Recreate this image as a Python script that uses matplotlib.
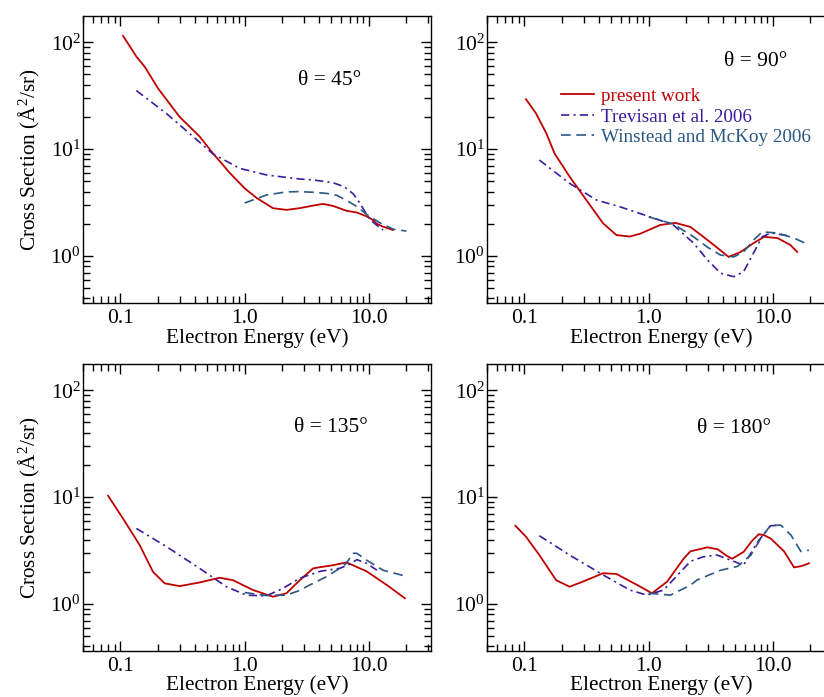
import matplotlib
matplotlib.use("Agg")
import matplotlib.pyplot as plt
from matplotlib.ticker import LogLocator, FixedLocator, FixedFormatter, NullFormatter

plt.rcParams['font.family'] = ['Liberation Serif', 'DejaVu Serif']
plt.rcParams['mathtext.fontset'] = 'custom'
plt.rcParams['mathtext.rm'] = 'Liberation Serif'
plt.rcParams['mathtext.it'] = 'Liberation Serif:italic'
plt.rcParams['lines.scale_dashes'] = False

# ---------------- data (energy in eV, cross section in A^2/sr) ----------------
# theta = 45
e45_red = [0.105, 0.1345, 0.157, 0.201, 0.30, 0.435, 0.557, 0.76, 1.0, 1.25, 1.69, 2.18, 2.77, 3.5, 4.27, 5.14, 6.59, 8.0, 9.6, 10.8, 11.6, 13.0, 15.6]
s45_red = [115, 73.5, 59, 37, 20, 13.1, 9.1, 5.98, 4.3, 3.49, 2.8, 2.7, 2.8, 2.95, 3.07, 2.94, 2.65, 2.55, 2.35, 2.17, 2.0, 1.88, 1.75]
e45_trev = [0.1345, 0.234, 0.385, 0.557, 0.914, 1.5, 2.77, 3.54, 5.14, 5.85, 6.59, 7.5, 8.5, 9.3, 10.2, 11.5, 13.0]
s45_trev = [35.3, 21.6, 13.1, 9.0, 6.6, 5.73, 5.25, 5.15, 4.85, 4.6, 4.3, 3.8, 3.1, 2.6, 2.2, 1.95, 1.75]
e45_win = [1.0, 1.5, 2.18, 2.77, 3.5, 4.58, 5.5, 6.65, 8.0, 9.6, 12.2, 15.7, 20.1]
s45_win = [3.13, 3.72, 3.98, 4.0, 3.95, 3.85, 3.7, 3.3, 2.9, 2.45, 2.05, 1.78, 1.71]

# theta = 90
e90_red = [0.103, 0.124, 0.15, 0.175, 0.231, 0.315, 0.43, 0.55, 0.706, 0.86, 1.24, 1.64, 2.17, 2.76, 3.58, 4.4, 5.5, 7.0, 8.5, 10.9, 13.8, 15.7]
s90_red = [29.3, 21.6, 14.1, 9.1, 5.53, 3.34, 2.02, 1.57, 1.52, 1.62, 1.95, 2.04, 1.87, 1.51, 1.19, 0.98, 1.09, 1.32, 1.51, 1.47, 1.27, 1.09]
e90_trev = [0.132, 0.231, 0.38, 0.59, 1.09, 1.58, 2.3, 2.97, 3.79, 4.84, 5.8, 7.0, 8.2, 9.6, 13.1]
s90_trev = [7.9, 4.78, 3.34, 2.88, 2.27, 1.95, 1.32, 0.92, 0.69, 0.64, 0.71, 1.07, 1.51, 1.64, 1.55]
e90_win = [1.0, 1.58, 2.3, 2.97, 3.79, 4.84, 5.8, 7.0, 8.2, 10.9, 14.8, 19.5]
s90_win = [2.32, 1.99, 1.51, 1.21, 1.02, 0.98, 1.09, 1.41, 1.68, 1.64, 1.47, 1.27]

# theta = 135
e135_red = [0.0796, 0.105, 0.143, 0.183, 0.227, 0.30, 0.435, 0.63, 0.805, 1.17, 1.69, 2.17, 2.78, 3.55, 4.04, 5.1, 6.6, 9.6, 14.0, 19.5]
s135_red = [10.3, 6.3, 3.56, 2.0, 1.56, 1.47, 1.59, 1.76, 1.67, 1.35, 1.17, 1.26, 1.67, 2.15, 2.21, 2.3, 2.45, 2.02, 1.5, 1.13]
e135_trev = [0.1345, 0.235, 0.435, 0.714, 1.03, 1.49, 2.04, 2.77, 4.04, 5.85, 7.0, 8.0, 9.6, 11.6]
s135_trev = [5.09, 3.44, 2.15, 1.45, 1.21, 1.19, 1.4, 1.74, 2.02, 2.16, 2.35, 2.6, 2.4, 2.07]
e135_win = [1.0, 1.49, 2.17, 2.78, 3.14, 4.55, 5.85, 6.6, 7.4, 8.0, 9.6, 13.0, 20.2]
s135_win = [1.28, 1.2, 1.21, 1.34, 1.45, 1.8, 2.16, 2.4, 2.98, 2.98, 2.57, 2.07, 1.81]

# theta = 180
e180_red = [0.0846, 0.103, 0.132, 0.18, 0.231, 0.296, 0.43, 0.55, 0.805, 1.064, 1.41, 1.92, 2.17, 2.97, 3.6, 4.2, 4.7, 5.83, 6.8, 7.7, 8.5, 9.6, 12.3, 14.8, 16.9, 19.5]
s180_red = [5.4, 4.26, 2.87, 1.67, 1.45, 1.62, 1.94, 1.91, 1.51, 1.26, 1.62, 2.67, 3.11, 3.39, 3.25, 2.85, 2.65, 3.08, 3.9, 4.5, 4.4, 4.1, 3.11, 2.2, 2.26, 2.4]
e180_trev = [0.132, 0.231, 0.43, 0.706, 0.97, 1.32, 1.92, 2.17, 2.77, 3.55, 4.84, 5.8, 7.6, 9.6, 11.6]
s180_trev = [4.35, 2.87, 1.87, 1.35, 1.21, 1.35, 2.15, 2.51, 2.77, 2.87, 2.51, 2.3, 3.86, 5.4, 5.46]
e180_win = [1.0, 1.5, 2.17, 2.46, 3.8, 5.2, 6.64, 8.0, 9.6, 11.6, 14.0, 16.8, 19.5]
s180_win = [1.26, 1.21, 1.5, 1.68, 2.07, 2.25, 2.86, 4.12, 5.46, 5.46, 4.4, 3.1, 3.18]

angles = ["45", "90", "135", "180"]
labels = ["present work", "Trevisan et al. 2006", "Winstead and McKoy 2006"]

red = '#C00000'
purple = '#3B1C9C'
blue = '#2A5783'

fig = plt.figure(figsize=(8.24, 6.97), dpi=100)

# axes boxes (left, bottom, width, height) in figure fraction
w = 0.4223
h = 0.4117
boxes = [(0.1007, 0.5653, w, h), (0.591, 0.5653, w, h),
         (0.1007, 0.066, w, h), (0.591, 0.066, w, h)]
curves = [
    (e45_red, s45_red, e45_trev, s45_trev, e45_win, s45_win),
    (e90_red, s90_red, e90_trev, s90_trev, e90_win, s90_win),
    (e135_red, s135_red, e135_trev, s135_trev, e135_win, s135_win),
    (e180_red, s180_red, e180_trev, s180_trev, e180_win, s180_win),
]
theta_pos = [(0.71, 0.777), (0.773, 0.84), (0.713, 0.78), (0.71, 0.777)]

for i in range(4):
    ax = fig.add_axes(boxes[i])
    er, sr, et, st, ew, sw = curves[i]
    ax.plot(er, sr, color=red, lw=1.3, label=labels[0])
    ax.plot(et, st, color=purple, lw=1.2, dashes=(6, 3, 1.5, 3), label=labels[1])
    ax.plot(ew, sw, color=blue, lw=1.2, dashes=(7, 4), label=labels[2])

    ax.set_xscale('log')
    ax.set_yscale('log')
    ax.set_xlim(0.05, 31.6)
    ax.set_ylim(0.363, 176)

    ax.xaxis.set_major_locator(FixedLocator([0.1, 1.0, 10.0]))
    ax.xaxis.set_major_formatter(FixedFormatter(["0.1", "1.0", "10.0"]))
    ax.xaxis.set_minor_locator(LogLocator(base=10, subs=range(2, 10)))
    ax.xaxis.set_minor_formatter(NullFormatter())
    ax.yaxis.set_major_locator(FixedLocator([1.0, 10.0, 100.0]))
    ax.yaxis.set_major_formatter(FixedFormatter([r'$\mathregular{10^{0}}$', r'$\mathregular{10^{1}}$', r'$\mathregular{10^{2}}$']))
    ax.yaxis.set_minor_locator(LogLocator(base=10, subs=range(2, 10)))
    ax.yaxis.set_minor_formatter(NullFormatter())

    ax.tick_params(which='both', direction='in', top=True, right=True, width=1.0)
    ax.tick_params(which='major', length=7.5, labelsize=15.5)
    ax.tick_params(which='minor', length=5)
    ax.tick_params(axis='x', which='major', pad=4.5)
    ax.tick_params(axis='y', which='major', pad=1.5)
    for sp in ax.spines.values():
        sp.set_linewidth(1.0)

    ax.set_xlabel("Electron Energy (eV)", fontsize=15.3, labelpad=0 if i < 2 else -1)
    if i % 2 == 0:
        ax.set_ylabel("Cross Section (Å$^{2}$/sr)", fontsize=15.3, labelpad=6)

    ax.text(theta_pos[i][0], theta_pos[i][1], "θ = " + angles[i] + "°",
            transform=ax.transAxes, ha='center', va='center', fontsize=15.5)

    if i == 1:
        ax.legend(loc='upper left', bbox_to_anchor=(0.214, 0.7505), frameon=False,
                  fontsize=13.8, labelcolor='linecolor', handlelength=1.72,
                  handletextpad=0.36, labelspacing=0.16, borderpad=0, borderaxespad=0)

fig.savefig('out.png', dpi=100)
